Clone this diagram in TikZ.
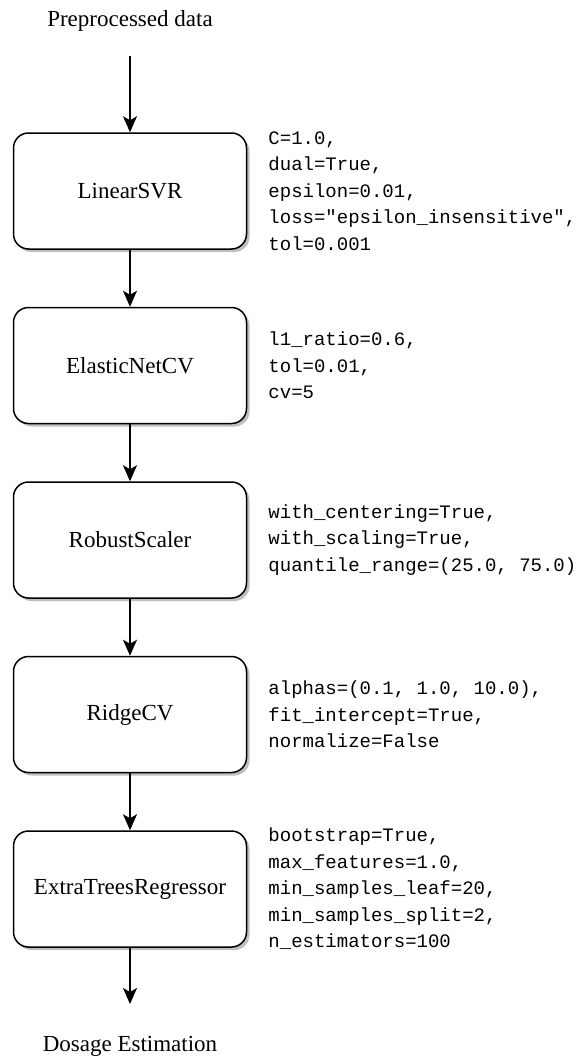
\documentclass[tikz,border=0pt]{standalone}
\usepackage{fontspec}
\setmainfont{Liberation Serif}
\setmonofont{Liberation Mono}
\usetikzlibrary{arrows.meta,shadows}
\tikzset{
    model-box/.style = {draw=black, fill=white, line width=1.5pt, rectangle, rounded corners=15pt, minimum width=233pt, minimum height=116pt, drop shadow={shadow xshift=3pt, shadow yshift=-3pt, fill=black!25, opacity=1}, font=\fontsize{23}{27}\selectfont},
    param-text/.style = {align=left, inner sep=0pt, font=\ttfamily\fontsize{19}{26.5}\selectfont},
    flow-arrow/.style = {-{Stealth[length=16pt, width=14pt, inset=4pt]}, line width=1.6pt},
    end-label/.style = {anchor=base, font=\fontsize{23}{27}\selectfont},
}

\begin{document}
\begin{tikzpicture}[x=1pt, y=-1pt]
\useasboundingbox (0,0) rectangle (580,1057);

\node [end-label] (data-label) at (130,27) {Preprocessed data};
\coordinate (data-in) at (130,56);

\node [model-box] (linear-svr) at (130,191) {LinearSVR};
\node [param-text, right=21pt] (linear-svr-params) at (linear-svr.east) {C=1.0,\\dual=True,\\epsilon=0.01,\\loss="epsilon\_insensitive",\\tol=0.001};

\node [model-box] (elastic-net) at (130,365.5) {ElasticNetCV};
\node [param-text, right=21pt] (elastic-net-params) at (elastic-net.east) {l1\_ratio=0.6,\\tol=0.01,\\cv=5};

\node [model-box] (robust-scaler) at (130,540) {RobustScaler};
\node [param-text, right=21pt] (robust-scaler-params) at (robust-scaler.east) {with\_centering=True,\\with\_scaling=True,\\quantile\_range=(25.0, 75.0)};

\node [model-box] (ridge-cv) at (130,714.5) {RidgeCV};
\node [param-text, right=21pt] (ridge-cv-params) at (ridge-cv.east) {alphas=(0.1, 1.0, 10.0),\\fit\_intercept=True,\\normalize=False};

\node [model-box] (extra-trees) at (130,889) {ExtraTreesRegressor};
\node [param-text, right=21pt] (extra-trees-params) at (extra-trees.east) {bootstrap=True,\\max\_features=1.0,\\min\_samples\_leaf=20,\\min\_samples\_split=2,\\n\_estimators=100};

\coordinate (dosage-out) at (130,1004);
\node [end-label] (dosage-label) at (130,1051) {Dosage Estimation};

\draw [flow-arrow] (data-in) -- (linear-svr);
\draw [flow-arrow] (linear-svr) -- (elastic-net);
\draw [flow-arrow] (elastic-net) -- (robust-scaler);
\draw [flow-arrow] (robust-scaler) -- (ridge-cv);
\draw [flow-arrow] (ridge-cv) -- (extra-trees);
\draw [flow-arrow] (extra-trees) -- (dosage-out);
\end{tikzpicture}
\end{document}
